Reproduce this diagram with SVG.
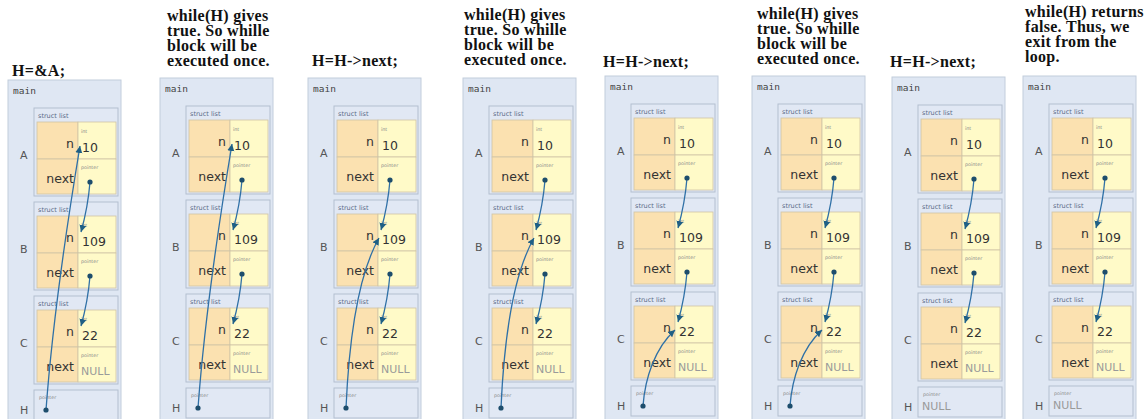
<svg xmlns="http://www.w3.org/2000/svg" width="1146" height="419" viewBox="0 0 1146 419">
<style>
.ttl{font-family:"Liberation Serif","Times New Roman",serif;font-weight:bold;font-size:16px;letter-spacing:0.3px;fill:#111}
.frame{fill:#dfe7f3;stroke:#c2cddc;stroke-width:1}
.mainlbl{font-family:"DejaVu Sans Mono","Liberation Mono",monospace;font-size:9.5px;fill:#444}
.struct{fill:#e1e8f4;stroke:#b3bfd0;stroke-width:1}
.hrow{fill:#e1e8f4;stroke:#b3bfd0;stroke-width:1}
.slbl{font-family:"DejaVu Sans",sans-serif;font-size:6.5px;fill:#5b6a88}
.kc{fill:#fbe1b0;stroke:#cfc4a6;stroke-width:0.8}
.vc{fill:#fffac8;stroke:#cfc4a6;stroke-width:0.8}
.key{font-family:"DejaVu Sans",sans-serif;font-size:12.5px;fill:#333;text-anchor:end}
.val{font-family:"DejaVu Sans",sans-serif;font-size:12.5px;fill:#333}
.typ{font-family:"DejaVu Sans",sans-serif;font-size:4.8px;fill:#888}
.null{font-family:"DejaVu Sans",sans-serif;font-size:11px;fill:#9a9a9a}
.var{font-family:"DejaVu Sans",sans-serif;font-size:11px;fill:#555}
.arr{fill:none;stroke:#2f70a6;stroke-width:1.3;marker-end:url(#ah)}
.dot{fill:#1d4d6c}
</style>
<defs>
<marker id="ah" markerWidth="8" markerHeight="8" refX="7" refY="4" orient="auto" markerUnits="userSpaceOnUse"><path d="M0,0.5 L7,4 L0,7.5 z" fill="#1f5f85"/></marker>
</defs>

<g id="titles">
<text class="ttl" x="12" y="76">H=&amp;A;</text>
<text class="ttl" x="167" y="21">while(H) gives</text>
<text class="ttl" x="167" y="36">true. So whille</text>
<text class="ttl" x="167" y="51">block will be</text>
<text class="ttl" x="167" y="66">executed once.</text>
<text class="ttl" x="312" y="66">H=H-&gt;next;</text>
<text class="ttl" x="464" y="20">while(H) gives</text>
<text class="ttl" x="464" y="35">true. So whille</text>
<text class="ttl" x="464" y="50">block will be</text>
<text class="ttl" x="464" y="65">executed once.</text>
<text class="ttl" x="603" y="67">H=H-&gt;next;</text>
<text class="ttl" x="757" y="19">while(H) gives</text>
<text class="ttl" x="757" y="34">true. So whille</text>
<text class="ttl" x="757" y="49">block will be</text>
<text class="ttl" x="757" y="64">executed once.</text>
<text class="ttl" x="890" y="67">H=H-&gt;next;</text>
<text class="ttl" x="1025" y="17">while(H) returns</text>
<text class="ttl" x="1025" y="32">false. Thus, we</text>
<text class="ttl" x="1025" y="47">exit from the</text>
<text class="ttl" x="1025" y="62">loop.</text>
</g>

<!-- Panel 1 -->
<g id="p1" transform="translate(8,2)">
<rect class="frame" x="0" y="78" width="113" height="345"/>
<text class="mainlbl" x="5" y="92">main</text>
<g id="p1-A"><rect class="struct" x="26" y="106" width="84" height="88"/><text class="slbl" x="30" y="116">struct list</text><rect class="kc" x="29" y="120" width="41" height="37"/><rect class="vc" x="70" y="120" width="38" height="37"/><rect class="kc" x="29" y="157" width="41" height="35"/><rect class="vc" x="70" y="157" width="38" height="35"/><text class="typ" x="73" y="131">int</text><text class="key" x="66" y="146">n</text><text class="val" x="74" y="150">10</text><text class="typ" x="73" y="167">pointer</text><text class="key" x="66" y="181">next</text><text class="var" x="12" y="157">A</text></g>
<g id="p1-B"><rect class="struct" x="26" y="200" width="84" height="88"/><text class="slbl" x="30" y="210">struct list</text><rect class="kc" x="29" y="214" width="41" height="37"/><rect class="vc" x="70" y="214" width="38" height="37"/><rect class="kc" x="29" y="251" width="41" height="35"/><rect class="vc" x="70" y="251" width="38" height="35"/><text class="typ" x="73" y="225">int</text><text class="key" x="66" y="240">n</text><text class="val" x="74" y="244">109</text><text class="typ" x="73" y="261">pointer</text><text class="key" x="66" y="275">next</text><text class="var" x="12" y="251">B</text></g>
<g id="p1-C"><rect class="struct" x="26" y="294" width="84" height="88"/><text class="slbl" x="30" y="304">struct list</text><rect class="kc" x="29" y="308" width="41" height="37"/><rect class="vc" x="70" y="308" width="38" height="37"/><rect class="kc" x="29" y="345" width="41" height="35"/><rect class="vc" x="70" y="345" width="38" height="35"/><text class="typ" x="73" y="319">int</text><text class="key" x="66" y="334">n</text><text class="val" x="74" y="338">22</text><text class="typ" x="73" y="355">pointer</text><text class="key" x="66" y="369">next</text><text class="null" x="73" y="373">NULL</text><text class="var" x="12" y="345">C</text></g>
<g id="p1-H"><rect class="hrow" x="26" y="388" width="84" height="30"/><text class="typ" x="31" y="397">pointer</text><text class="var" x="12" y="412">H</text></g>
<g id="p1-conn"><path class="arr" d="M82,180 Q80,205 73,230"/><path class="arr" d="M82,274 Q80,299 73,324"/><path class="arr" d="M38,408 Q46,300 72,144"/><circle class="dot" cx="82" cy="180" r="2.6"/><circle class="dot" cx="82" cy="274" r="2.6"/><circle class="dot" cx="38" cy="408" r="2.6"/></g>
</g>

<!-- Panel 2 -->
<g id="p2" transform="translate(160,0)">
<rect class="frame" x="0" y="78" width="113" height="345"/>
<text class="mainlbl" x="5" y="92">main</text>
<g id="p2-A"><rect class="struct" x="26" y="106" width="84" height="88"/><text class="slbl" x="30" y="116">struct list</text><rect class="kc" x="29" y="120" width="41" height="37"/><rect class="vc" x="70" y="120" width="38" height="37"/><rect class="kc" x="29" y="157" width="41" height="35"/><rect class="vc" x="70" y="157" width="38" height="35"/><text class="typ" x="73" y="131">int</text><text class="key" x="66" y="146">n</text><text class="val" x="74" y="150">10</text><text class="typ" x="73" y="167">pointer</text><text class="key" x="66" y="181">next</text><text class="var" x="12" y="157">A</text></g>
<g id="p2-B"><rect class="struct" x="26" y="200" width="84" height="88"/><text class="slbl" x="30" y="210">struct list</text><rect class="kc" x="29" y="214" width="41" height="37"/><rect class="vc" x="70" y="214" width="38" height="37"/><rect class="kc" x="29" y="251" width="41" height="35"/><rect class="vc" x="70" y="251" width="38" height="35"/><text class="typ" x="73" y="225">int</text><text class="key" x="66" y="240">n</text><text class="val" x="74" y="244">109</text><text class="typ" x="73" y="261">pointer</text><text class="key" x="66" y="275">next</text><text class="var" x="12" y="251">B</text></g>
<g id="p2-C"><rect class="struct" x="26" y="294" width="84" height="88"/><text class="slbl" x="30" y="304">struct list</text><rect class="kc" x="29" y="308" width="41" height="37"/><rect class="vc" x="70" y="308" width="38" height="37"/><rect class="kc" x="29" y="345" width="41" height="35"/><rect class="vc" x="70" y="345" width="38" height="35"/><text class="typ" x="73" y="319">int</text><text class="key" x="66" y="334">n</text><text class="val" x="74" y="338">22</text><text class="typ" x="73" y="355">pointer</text><text class="key" x="66" y="369">next</text><text class="null" x="73" y="373">NULL</text><text class="var" x="12" y="345">C</text></g>
<g id="p2-H"><rect class="hrow" x="26" y="388" width="84" height="30"/><text class="typ" x="31" y="397">pointer</text><text class="var" x="12" y="412">H</text></g>
<g id="p2-conn"><path class="arr" d="M82,180 Q80,205 73,230"/><path class="arr" d="M82,274 Q80,299 73,324"/><path class="arr" d="M38,408 Q46,300 72,144"/><circle class="dot" cx="82" cy="180" r="2.6"/><circle class="dot" cx="82" cy="274" r="2.6"/><circle class="dot" cx="38" cy="408" r="2.6"/></g>
</g>

<!-- Panel 3 -->
<g id="p3" transform="translate(308,0)">
<rect class="frame" x="0" y="78" width="113" height="345"/>
<text class="mainlbl" x="5" y="92">main</text>
<g id="p3-A"><rect class="struct" x="26" y="106" width="84" height="88"/><text class="slbl" x="30" y="116">struct list</text><rect class="kc" x="29" y="120" width="41" height="37"/><rect class="vc" x="70" y="120" width="38" height="37"/><rect class="kc" x="29" y="157" width="41" height="35"/><rect class="vc" x="70" y="157" width="38" height="35"/><text class="typ" x="73" y="131">int</text><text class="key" x="66" y="146">n</text><text class="val" x="74" y="150">10</text><text class="typ" x="73" y="167">pointer</text><text class="key" x="66" y="181">next</text><text class="var" x="12" y="157">A</text></g>
<g id="p3-B"><rect class="struct" x="26" y="200" width="84" height="88"/><text class="slbl" x="30" y="210">struct list</text><rect class="kc" x="29" y="214" width="41" height="37"/><rect class="vc" x="70" y="214" width="38" height="37"/><rect class="kc" x="29" y="251" width="41" height="35"/><rect class="vc" x="70" y="251" width="38" height="35"/><text class="typ" x="73" y="225">int</text><text class="key" x="66" y="240">n</text><text class="val" x="74" y="244">109</text><text class="typ" x="73" y="261">pointer</text><text class="key" x="66" y="275">next</text><text class="var" x="12" y="251">B</text></g>
<g id="p3-C"><rect class="struct" x="26" y="294" width="84" height="88"/><text class="slbl" x="30" y="304">struct list</text><rect class="kc" x="29" y="308" width="41" height="37"/><rect class="vc" x="70" y="308" width="38" height="37"/><rect class="kc" x="29" y="345" width="41" height="35"/><rect class="vc" x="70" y="345" width="38" height="35"/><text class="typ" x="73" y="319">int</text><text class="key" x="66" y="334">n</text><text class="val" x="74" y="338">22</text><text class="typ" x="73" y="355">pointer</text><text class="key" x="66" y="369">next</text><text class="null" x="73" y="373">NULL</text><text class="var" x="12" y="345">C</text></g>
<g id="p3-H"><rect class="hrow" x="26" y="388" width="84" height="30"/><text class="typ" x="31" y="397">pointer</text><text class="var" x="12" y="412">H</text></g>
<g id="p3-conn"><path class="arr" d="M82,180 Q80,205 73,230"/><path class="arr" d="M82,274 Q80,299 73,324"/><path class="arr" d="M38,408 C41,340 50,275 71,238"/><circle class="dot" cx="82" cy="180" r="2.6"/><circle class="dot" cx="82" cy="274" r="2.6"/><circle class="dot" cx="38" cy="408" r="2.6"/></g>
</g>

<!-- Panel 4 -->
<g id="p4" transform="translate(463,0)">
<rect class="frame" x="0" y="78" width="113" height="345"/>
<text class="mainlbl" x="5" y="92">main</text>
<g id="p4-A"><rect class="struct" x="26" y="106" width="84" height="88"/><text class="slbl" x="30" y="116">struct list</text><rect class="kc" x="29" y="120" width="41" height="37"/><rect class="vc" x="70" y="120" width="38" height="37"/><rect class="kc" x="29" y="157" width="41" height="35"/><rect class="vc" x="70" y="157" width="38" height="35"/><text class="typ" x="73" y="131">int</text><text class="key" x="66" y="146">n</text><text class="val" x="74" y="150">10</text><text class="typ" x="73" y="167">pointer</text><text class="key" x="66" y="181">next</text><text class="var" x="12" y="157">A</text></g>
<g id="p4-B"><rect class="struct" x="26" y="200" width="84" height="88"/><text class="slbl" x="30" y="210">struct list</text><rect class="kc" x="29" y="214" width="41" height="37"/><rect class="vc" x="70" y="214" width="38" height="37"/><rect class="kc" x="29" y="251" width="41" height="35"/><rect class="vc" x="70" y="251" width="38" height="35"/><text class="typ" x="73" y="225">int</text><text class="key" x="66" y="240">n</text><text class="val" x="74" y="244">109</text><text class="typ" x="73" y="261">pointer</text><text class="key" x="66" y="275">next</text><text class="var" x="12" y="251">B</text></g>
<g id="p4-C"><rect class="struct" x="26" y="294" width="84" height="88"/><text class="slbl" x="30" y="304">struct list</text><rect class="kc" x="29" y="308" width="41" height="37"/><rect class="vc" x="70" y="308" width="38" height="37"/><rect class="kc" x="29" y="345" width="41" height="35"/><rect class="vc" x="70" y="345" width="38" height="35"/><text class="typ" x="73" y="319">int</text><text class="key" x="66" y="334">n</text><text class="val" x="74" y="338">22</text><text class="typ" x="73" y="355">pointer</text><text class="key" x="66" y="369">next</text><text class="null" x="73" y="373">NULL</text><text class="var" x="12" y="345">C</text></g>
<g id="p4-H"><rect class="hrow" x="26" y="388" width="84" height="30"/><text class="typ" x="31" y="397">pointer</text><text class="var" x="12" y="412">H</text></g>
<g id="p4-conn"><path class="arr" d="M82,180 Q80,205 73,230"/><path class="arr" d="M82,274 Q80,299 73,324"/><path class="arr" d="M38,408 C41,340 50,275 71,238"/><circle class="dot" cx="82" cy="180" r="2.6"/><circle class="dot" cx="82" cy="274" r="2.6"/><circle class="dot" cx="38" cy="408" r="2.6"/></g>
</g>

<!-- Panel 5 -->
<g id="p5" transform="translate(605,-2)">
<rect class="frame" x="0" y="78" width="113" height="345"/>
<text class="mainlbl" x="5" y="92">main</text>
<g id="p5-A"><rect class="struct" x="26" y="106" width="84" height="88"/><text class="slbl" x="30" y="116">struct list</text><rect class="kc" x="29" y="120" width="41" height="37"/><rect class="vc" x="70" y="120" width="38" height="37"/><rect class="kc" x="29" y="157" width="41" height="35"/><rect class="vc" x="70" y="157" width="38" height="35"/><text class="typ" x="73" y="131">int</text><text class="key" x="66" y="146">n</text><text class="val" x="74" y="150">10</text><text class="typ" x="73" y="167">pointer</text><text class="key" x="66" y="181">next</text><text class="var" x="12" y="157">A</text></g>
<g id="p5-B"><rect class="struct" x="26" y="200" width="84" height="88"/><text class="slbl" x="30" y="210">struct list</text><rect class="kc" x="29" y="214" width="41" height="37"/><rect class="vc" x="70" y="214" width="38" height="37"/><rect class="kc" x="29" y="251" width="41" height="35"/><rect class="vc" x="70" y="251" width="38" height="35"/><text class="typ" x="73" y="225">int</text><text class="key" x="66" y="240">n</text><text class="val" x="74" y="244">109</text><text class="typ" x="73" y="261">pointer</text><text class="key" x="66" y="275">next</text><text class="var" x="12" y="251">B</text></g>
<g id="p5-C"><rect class="struct" x="26" y="294" width="84" height="88"/><text class="slbl" x="30" y="304">struct list</text><rect class="kc" x="29" y="308" width="41" height="37"/><rect class="vc" x="70" y="308" width="38" height="37"/><rect class="kc" x="29" y="345" width="41" height="35"/><rect class="vc" x="70" y="345" width="38" height="35"/><text class="typ" x="73" y="319">int</text><text class="key" x="66" y="334">n</text><text class="val" x="74" y="338">22</text><text class="typ" x="73" y="355">pointer</text><text class="key" x="66" y="369">next</text><text class="null" x="73" y="373">NULL</text><text class="var" x="12" y="345">C</text></g>
<g id="p5-H"><rect class="hrow" x="26" y="388" width="84" height="30"/><text class="typ" x="31" y="397">pointer</text><text class="var" x="12" y="412">H</text></g>
<g id="p5-conn"><path class="arr" d="M82,180 Q80,205 73,230"/><path class="arr" d="M82,274 Q80,299 73,324"/><path class="arr" d="M38,408 C40,380 50,350 70,332"/><circle class="dot" cx="82" cy="180" r="2.6"/><circle class="dot" cx="82" cy="274" r="2.6"/><circle class="dot" cx="38" cy="408" r="2.6"/></g>
</g>

<!-- Panel 6 -->
<g id="p6" transform="translate(752,-2)">
<rect class="frame" x="0" y="78" width="113" height="345"/>
<text class="mainlbl" x="5" y="92">main</text>
<g id="p6-A"><rect class="struct" x="26" y="106" width="84" height="88"/><text class="slbl" x="30" y="116">struct list</text><rect class="kc" x="29" y="120" width="41" height="37"/><rect class="vc" x="70" y="120" width="38" height="37"/><rect class="kc" x="29" y="157" width="41" height="35"/><rect class="vc" x="70" y="157" width="38" height="35"/><text class="typ" x="73" y="131">int</text><text class="key" x="66" y="146">n</text><text class="val" x="74" y="150">10</text><text class="typ" x="73" y="167">pointer</text><text class="key" x="66" y="181">next</text><text class="var" x="12" y="157">A</text></g>
<g id="p6-B"><rect class="struct" x="26" y="200" width="84" height="88"/><text class="slbl" x="30" y="210">struct list</text><rect class="kc" x="29" y="214" width="41" height="37"/><rect class="vc" x="70" y="214" width="38" height="37"/><rect class="kc" x="29" y="251" width="41" height="35"/><rect class="vc" x="70" y="251" width="38" height="35"/><text class="typ" x="73" y="225">int</text><text class="key" x="66" y="240">n</text><text class="val" x="74" y="244">109</text><text class="typ" x="73" y="261">pointer</text><text class="key" x="66" y="275">next</text><text class="var" x="12" y="251">B</text></g>
<g id="p6-C"><rect class="struct" x="26" y="294" width="84" height="88"/><text class="slbl" x="30" y="304">struct list</text><rect class="kc" x="29" y="308" width="41" height="37"/><rect class="vc" x="70" y="308" width="38" height="37"/><rect class="kc" x="29" y="345" width="41" height="35"/><rect class="vc" x="70" y="345" width="38" height="35"/><text class="typ" x="73" y="319">int</text><text class="key" x="66" y="334">n</text><text class="val" x="74" y="338">22</text><text class="typ" x="73" y="355">pointer</text><text class="key" x="66" y="369">next</text><text class="null" x="73" y="373">NULL</text><text class="var" x="12" y="345">C</text></g>
<g id="p6-H"><rect class="hrow" x="26" y="388" width="84" height="30"/><text class="typ" x="31" y="397">pointer</text><text class="var" x="12" y="412">H</text></g>
<g id="p6-conn"><path class="arr" d="M82,180 Q80,205 73,230"/><path class="arr" d="M82,274 Q80,299 73,324"/><path class="arr" d="M38,408 C40,380 50,350 70,332"/><circle class="dot" cx="82" cy="180" r="2.6"/><circle class="dot" cx="82" cy="274" r="2.6"/><circle class="dot" cx="38" cy="408" r="2.6"/></g>
</g>

<!-- Panel 7 -->
<g id="p7" transform="translate(892,-1)">
<rect class="frame" x="0" y="78" width="113" height="345"/>
<text class="mainlbl" x="5" y="92">main</text>
<g id="p7-A"><rect class="struct" x="26" y="106" width="84" height="88"/><text class="slbl" x="30" y="116">struct list</text><rect class="kc" x="29" y="120" width="41" height="37"/><rect class="vc" x="70" y="120" width="38" height="37"/><rect class="kc" x="29" y="157" width="41" height="35"/><rect class="vc" x="70" y="157" width="38" height="35"/><text class="typ" x="73" y="131">int</text><text class="key" x="66" y="146">n</text><text class="val" x="74" y="150">10</text><text class="typ" x="73" y="167">pointer</text><text class="key" x="66" y="181">next</text><text class="var" x="12" y="157">A</text></g>
<g id="p7-B"><rect class="struct" x="26" y="200" width="84" height="88"/><text class="slbl" x="30" y="210">struct list</text><rect class="kc" x="29" y="214" width="41" height="37"/><rect class="vc" x="70" y="214" width="38" height="37"/><rect class="kc" x="29" y="251" width="41" height="35"/><rect class="vc" x="70" y="251" width="38" height="35"/><text class="typ" x="73" y="225">int</text><text class="key" x="66" y="240">n</text><text class="val" x="74" y="244">109</text><text class="typ" x="73" y="261">pointer</text><text class="key" x="66" y="275">next</text><text class="var" x="12" y="251">B</text></g>
<g id="p7-C"><rect class="struct" x="26" y="294" width="84" height="88"/><text class="slbl" x="30" y="304">struct list</text><rect class="kc" x="29" y="308" width="41" height="37"/><rect class="vc" x="70" y="308" width="38" height="37"/><rect class="kc" x="29" y="345" width="41" height="35"/><rect class="vc" x="70" y="345" width="38" height="35"/><text class="typ" x="73" y="319">int</text><text class="key" x="66" y="334">n</text><text class="val" x="74" y="338">22</text><text class="typ" x="73" y="355">pointer</text><text class="key" x="66" y="369">next</text><text class="null" x="73" y="373">NULL</text><text class="var" x="12" y="345">C</text></g>
<g id="p7-H"><rect class="hrow" x="26" y="388" width="84" height="30"/><text class="typ" x="31" y="397">pointer</text><text class="null" x="30" y="411">NULL</text><text class="var" x="12" y="412">H</text></g>
<g id="p7-conn"><path class="arr" d="M82,180 Q80,205 73,230"/><path class="arr" d="M82,274 Q80,299 73,324"/><circle class="dot" cx="82" cy="180" r="2.6"/><circle class="dot" cx="82" cy="274" r="2.6"/></g>
</g>

<!-- Panel 8 -->
<g id="p8" transform="translate(1023,-2)">
<rect class="frame" x="0" y="78" width="113" height="345"/>
<text class="mainlbl" x="5" y="92">main</text>
<g id="p8-A"><rect class="struct" x="26" y="106" width="84" height="88"/><text class="slbl" x="30" y="116">struct list</text><rect class="kc" x="29" y="120" width="41" height="37"/><rect class="vc" x="70" y="120" width="38" height="37"/><rect class="kc" x="29" y="157" width="41" height="35"/><rect class="vc" x="70" y="157" width="38" height="35"/><text class="typ" x="73" y="131">int</text><text class="key" x="66" y="146">n</text><text class="val" x="74" y="150">10</text><text class="typ" x="73" y="167">pointer</text><text class="key" x="66" y="181">next</text><text class="var" x="12" y="157">A</text></g>
<g id="p8-B"><rect class="struct" x="26" y="200" width="84" height="88"/><text class="slbl" x="30" y="210">struct list</text><rect class="kc" x="29" y="214" width="41" height="37"/><rect class="vc" x="70" y="214" width="38" height="37"/><rect class="kc" x="29" y="251" width="41" height="35"/><rect class="vc" x="70" y="251" width="38" height="35"/><text class="typ" x="73" y="225">int</text><text class="key" x="66" y="240">n</text><text class="val" x="74" y="244">109</text><text class="typ" x="73" y="261">pointer</text><text class="key" x="66" y="275">next</text><text class="var" x="12" y="251">B</text></g>
<g id="p8-C"><rect class="struct" x="26" y="294" width="84" height="88"/><text class="slbl" x="30" y="304">struct list</text><rect class="kc" x="29" y="308" width="41" height="37"/><rect class="vc" x="70" y="308" width="38" height="37"/><rect class="kc" x="29" y="345" width="41" height="35"/><rect class="vc" x="70" y="345" width="38" height="35"/><text class="typ" x="73" y="319">int</text><text class="key" x="66" y="334">n</text><text class="val" x="74" y="338">22</text><text class="typ" x="73" y="355">pointer</text><text class="key" x="66" y="369">next</text><text class="null" x="73" y="373">NULL</text><text class="var" x="12" y="345">C</text></g>
<g id="p8-H"><rect class="hrow" x="26" y="388" width="84" height="30"/><text class="typ" x="31" y="397">pointer</text><text class="null" x="30" y="411">NULL</text><text class="var" x="12" y="412">H</text></g>
<g id="p8-conn"><path class="arr" d="M82,180 Q80,205 73,230"/><path class="arr" d="M82,274 Q80,299 73,324"/><circle class="dot" cx="82" cy="180" r="2.6"/><circle class="dot" cx="82" cy="274" r="2.6"/></g>
</g>
</svg>
